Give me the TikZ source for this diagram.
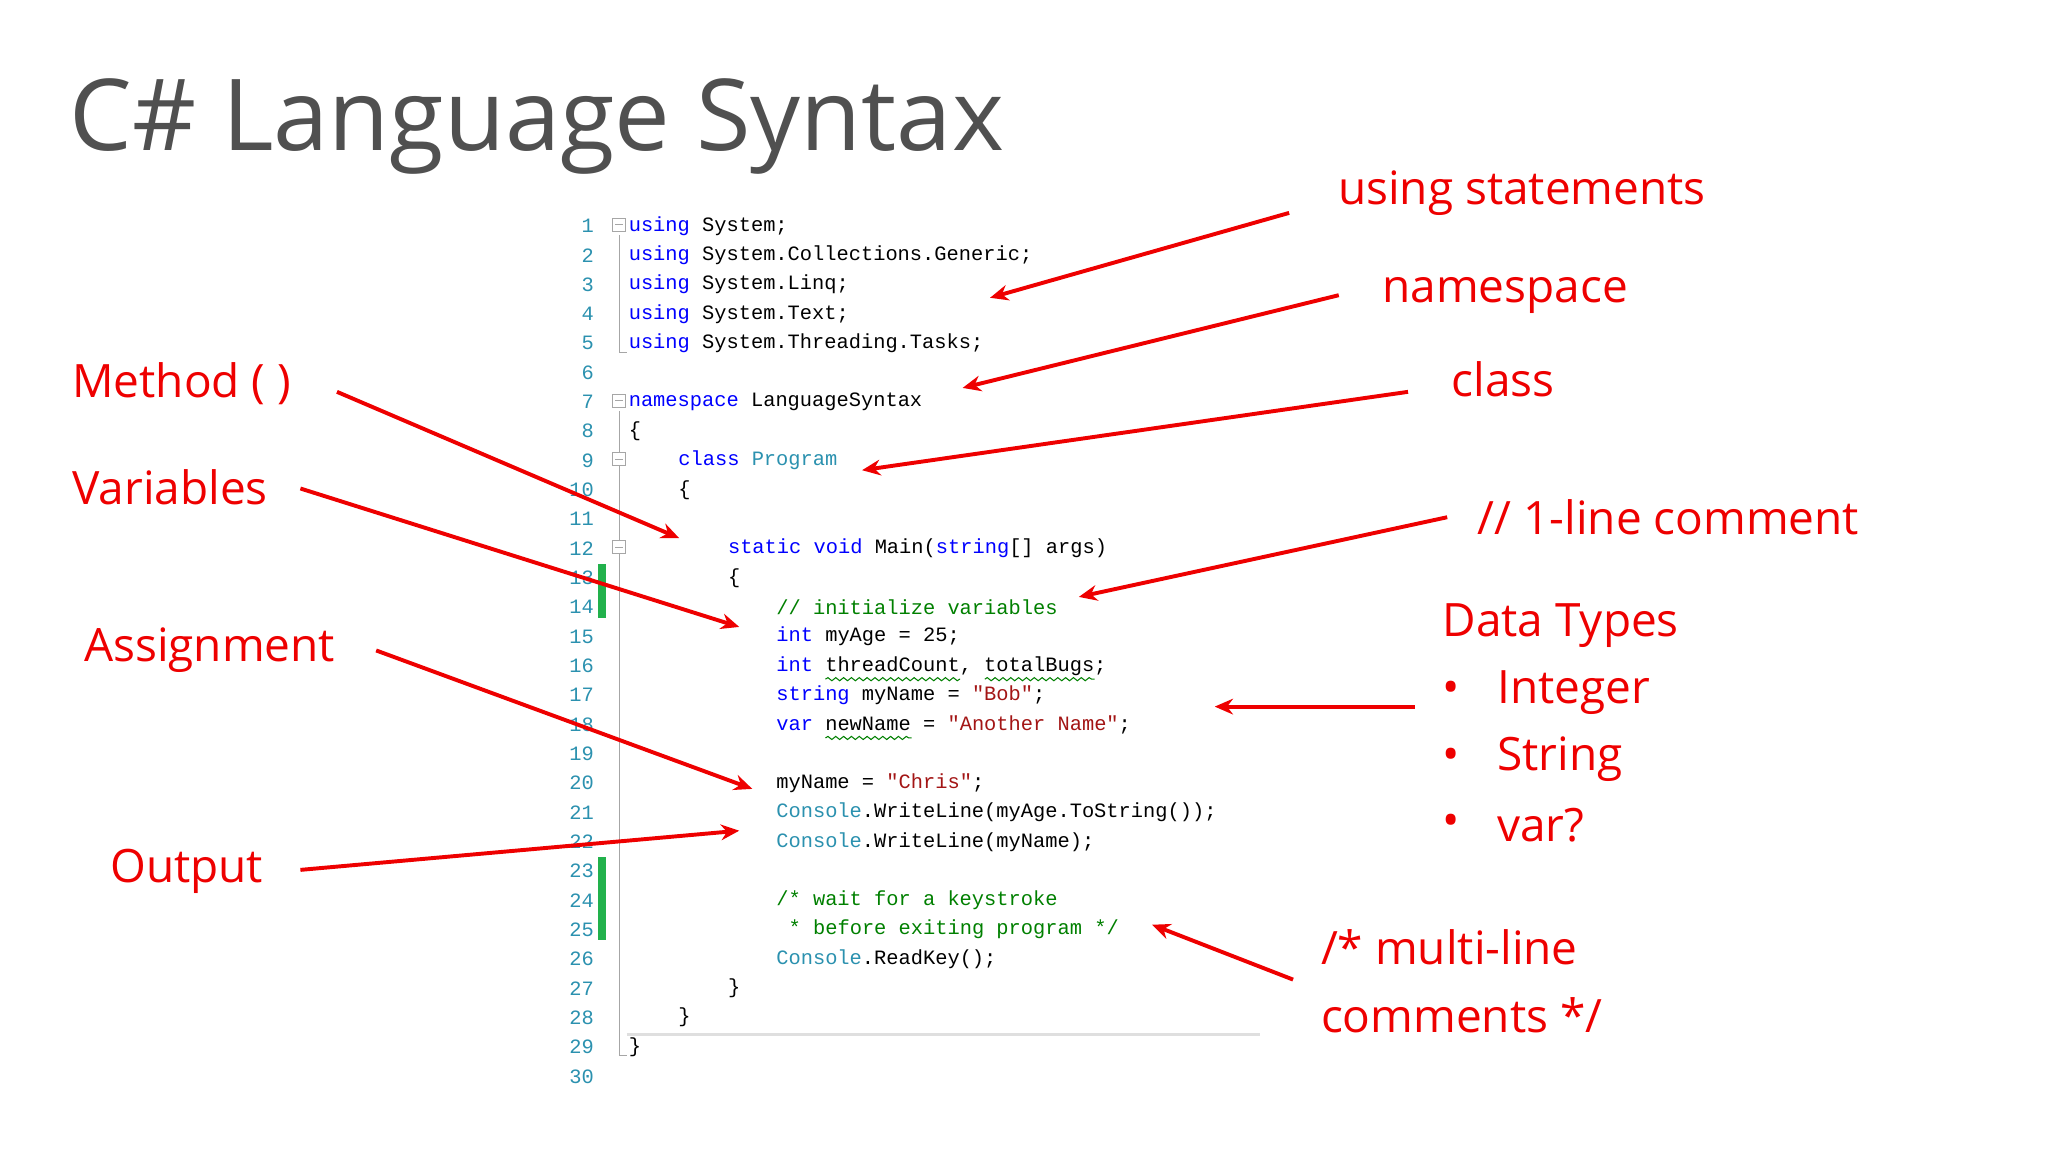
\documentclass[tikz,border=0pt]{standalone}
\usepackage{fontspec}
\setmainfont{Open Sans}
\setmonofont{Liberation Mono}
\usetikzlibrary{decorations.pathmorphing,arrows.meta}
\definecolor{kw}{HTML}{0000FF}
\definecolor{ty}{HTML}{2B91AF}
\definecolor{cmt}{HTML}{008000}
\definecolor{strc}{HTML}{A31515}
\definecolor{lab}{HTML}{EE0000}
\definecolor{ttl}{HTML}{505050}
\definecolor{gbar}{HTML}{22B14C}
\newcommand{\kw}[1]{\textcolor{kw}{#1}}
\newcommand{\ty}[1]{\textcolor{ty}{#1}}
\newcommand{\cm}[1]{\textcolor{cmt}{#1}}
\newcommand{\sq}[1]{\textcolor{strc}{#1}}
\tikzset{
  code/.style={anchor=west,inner sep=0pt,font=\fontsize{7.8}{9}\ttfamily},
  lnum/.style={anchor=east,inner sep=0pt,font=\fontsize{7.8}{9}\ttfamily,text=ty},
  label/.style={anchor=west,inner sep=0pt,text=lab,font=\fontsize{17.6}{20}\selectfont},
  arr/.style={draw=lab,line width=1.5pt,-{Stealth[length=7pt,width=6pt]}},
  fold/.style={draw=gray!70,line width=0.4pt},
  wavy/.style={draw=cmt,line width=0.4pt,decorate,decoration={snake,amplitude=0.6pt,segment length=3pt}}
}
\begin{document}
\begin{tikzpicture}[x=0.5pt,y=-0.5pt]
\useasboundingbox (0,0) rectangle (1568,882);
\fill[white] (0,0) rectangle (1568,882);
% title
\node[anchor=west,inner sep=0pt,text=ttl,font=\fontsize{38}{44}\selectfont] (title) at (53,97) {C\# Language Syntax};
% line numbers
\foreach \i in {1,...,30}{
  \node[lnum] (n\i) at (455,{173+(\i-1)*22.45}) {\i};
}
% fold guides
\draw[fold] (474,180) -- (474,270) -- (480,270);
\draw[fold] (474,315) -- (474,808) -- (480,808);
\foreach \l in {1,7,9,12}{
  \draw[fold,fill=white] (469,{172+(\l-1)*22.45-5}) rectangle (479,{172+(\l-1)*22.45+5});
  \draw[fold] (471,{172+(\l-1)*22.45}) -- (477,{172+(\l-1)*22.45});
}
\fill[gbar] (458,432) rectangle (464,473);
\fill[gbar] (458,656) rectangle (464,720);
\draw[gray!25,line width=1pt] (480,792) -- (965,792);
% code
\newcommand{\ly}[1]{173+(#1-1)*22.45}
\node[code] (c1) at (481,{\ly{1}}) {\kw{using} System;};
\node[code] (c2) at (481,{\ly{2}}) {\kw{using} System.Collections.Generic;};
\node[code] (c3) at (481,{\ly{3}}) {\kw{using} System.Linq;};
\node[code] (c4) at (481,{\ly{4}}) {\kw{using} System.Text;};
\node[code] (c5) at (481,{\ly{5}}) {\kw{using} System.Threading.Tasks;};
\node[code] (c7) at (481,{\ly{7}}) {\kw{namespace} LanguageSyntax};
\node[code] (c8) at (481,{\ly{8}}) {\{};
\node[code] (c9) at (519,{\ly{9}}) {\kw{class} \ty{Program}};
\node[code] (c10) at (519,{\ly{10}}) {\{};
\node[code] (c12) at (557,{\ly{12}}) {\kw{static} \kw{void} Main(\kw{string}[] args)};
\node[code] (c13) at (557,{\ly{13}}) {\{};
\node[code] (c14) at (594,{\ly{14}}) {\cm{// initialize variables}};
\node[code] (c15) at (594,{\ly{15}}) {\kw{int} myAge = 25;};
\node[code] (c16) at (594,{\ly{16}}) {\kw{int} threadCount, totalBugs;};
\node[code] (c17) at (594,{\ly{17}}) {\kw{string} myName = \sq{"Bob"};};
\node[code] (c18) at (594,{\ly{18}}) {\kw{var} newName = \sq{"Another Name"};};
\node[code] (c20) at (594,{\ly{20}}) {myName = \sq{"Chris"};};
\node[code] (c21) at (594,{\ly{21}}) {\ty{Console}.WriteLine(myAge.ToString());};
\node[code] (c22) at (594,{\ly{22}}) {\ty{Console}.WriteLine(myName);};
\node[code] (c24) at (594,{\ly{24}}) {\cm{/* wait for a keystroke}};
\node[code] (c25) at (603.4,{\ly{25}}) {\cm{* before exiting program */}};
\node[code] (c26) at (594,{\ly{26}}) {\ty{Console}.ReadKey();};
\node[code] (c27) at (557,{\ly{27}}) {\}};
\node[code] (c28) at (519,{\ly{28}}) {\}};
\node[code] (c29) at (481,{\ly{29}}) {\}};
% squiggles
\draw[wavy] (632,520) -- (735,520);
\draw[wavy] (754,520) -- (838,520);
\draw[wavy] (632,565) -- (698,565);
% right labels
\node[label] (using) at (1024,148) {using statements};
\node[label] (ns) at (1058,226) {namespace};
\node[label] (cls) at (1111,290) {class};
\node[label] (cmt1) at (1131,396) {// 1-line comment};
\node[label] (dt) at (1104,479) {Data Types};
\node[label] (b1) at (1104,530) {•};
\node[label] (integer) at (1146,530) {Integer};
\node[label] (b2) at (1104,581) {•};
\node[label] (string) at (1146,581) {String};
\node[label] (b3) at (1104,632) {•};
\node[label] (var) at (1146,632) {var?};
\node[label] (ml1) at (1011,725) {/* multi-line};
\node[label] (ml2) at (1011,777) {comments */};
% left labels
\node[label] (meth) at (55,294) {Method ( )};
\node[label] (vars) at (55,373) {Variables};
\node[label] (assign) at (64,498) {Assignment};
\node[label] (out) at (84,667) {Output};
% arrow endpoints
\coordinate (uS) at (987,163); \coordinate (uE) at (758,228);
\coordinate (nS) at (1025,226); \coordinate (nE) at (737,297);
\coordinate (cS) at (1078,300); \coordinate (cE) at (660,360);
\coordinate (oS) at (1108,396); \coordinate (oE) at (826,457);
\coordinate (dS) at (1083,541); \coordinate (dE) at (930,541);
\coordinate (mS) at (990,750); \coordinate (mE) at (882,708);
\coordinate (meS) at (258,300); \coordinate (meE) at (520,412);
\coordinate (vS) at (230,374); \coordinate (vE) at (566,480);
\coordinate (aS) at (288,498); \coordinate (aE) at (576,604);
\coordinate (ouS) at (230,666); \coordinate (ouE) at (566,636);
\foreach \s/\e in {uS/uE,nS/nE,cS/cE,oS/oE,dS/dE,mS/mE,meS/meE,vS/vE,aS/aE,ouS/ouE}
  \draw[arr] (\s) -- (\e);
\end{tikzpicture}
\end{document}
